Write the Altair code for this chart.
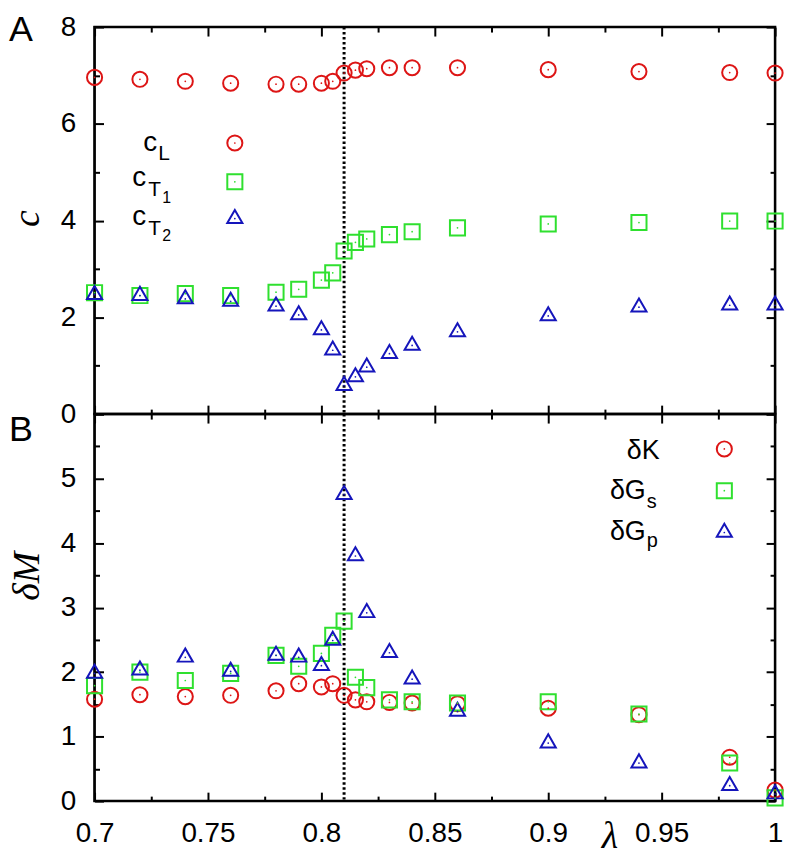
import altair as alt
import pandas as pd

# ---------------- data ----------------
lam = [0.70, 0.72, 0.74, 0.76, 0.78, 0.79, 0.80, 0.805, 0.81, 0.815,
       0.82, 0.83, 0.84, 0.86, 0.90, 0.94, 0.98, 1.00]

c_L = [6.96, 6.92, 6.88, 6.84, 6.82, 6.82, 6.84, 6.88, 7.05, 7.11,
       7.14, 7.16, 7.16, 7.16, 7.12, 7.08, 7.06, 7.05]
c_T1 = [2.51, 2.45, 2.49, 2.45, 2.52, 2.58, 2.77, 2.92, 3.37, 3.55,
        3.62, 3.71, 3.77, 3.85, 3.93, 3.96, 3.99, 3.99]
c_T2 = [2.47, 2.45, 2.38, 2.33, 2.23, 2.05, 1.74, 1.32, 0.59, 0.77,
        0.97, 1.25, 1.42, 1.70, 2.03, 2.21, 2.25, 2.25]

d_K = [1.58, 1.65, 1.62, 1.64, 1.71, 1.82, 1.77, 1.82, 1.64, 1.57,
       1.54, 1.53, 1.52, 1.51, 1.44, 1.34, 0.68, 0.17]
d_Gs = [1.79, 2.00, 1.87, 1.98, 2.26, 2.09, 2.29, 2.57, 2.79, 1.92,
        1.76, 1.57, 1.54, 1.52, 1.54, 1.35, 0.59, 0.05]
d_Gp = [1.98, 2.03, 2.23, 2.01, 2.26, 2.23, 2.10, 2.49, 4.75, 3.80,
        2.92, 2.30, 1.89, 1.39, 0.90, 0.59, 0.24, 0.11]

transition = [0.81]

top_names = ["cL", "cT1", "cT2"]
bot_names = ["dK", "dGs", "dGp"]

x_major = [0.7, 0.75, 0.8, 0.85, 0.9, 0.95, 1.0]
x_minor = [0.725, 0.775, 0.825, 0.875, 0.925, 0.975]
x_ends = [0.7, 1.0]
top_y_major = [0, 2, 4, 6, 8]
top_y_minor = [1, 3, 5, 7]
bot_y_major = [0, 1, 2, 3, 4, 5, 6]
bot_y_minor = [0.5, 1.5, 2.5, 3.5, 4.5, 5.5]

# ---------------- style ----------------
W, H = 684, 389
COLORS = ["#dd1515", "#2fe02f", "#1515bb"]
TRI = "M0,-1.1547L1,0.5774L-1,0.5774Z"
SHAPES = ["circle", "square", TRI]
SANS = "Liberation Sans"
SERIF = "Liberation Serif"
MAJ, MIN = 9, 5


def make_df(names, series):
    rows = []
    for name, vals in zip(names, series):
        for l, v in zip(lam, vals):
            rows.append({"lam": l, "val": v, "series": name})
    return pd.DataFrame(rows)


def ax(orient, values, size, labels=False, **kw):
    return alt.Axis(orient=orient, values=values, tickSize=size, offset=-size,
                    domain=False, grid=False, labels=labels, ticks=True,
                    tickColor="black", tickWidth=2, title=None,
                    labelFont=SANS, labelFontSize=28, labelColor="black",
                    labelPadding=19, labelFlush=False, labelOverlap=False,
                    format="~g", **kw)


one = pd.DataFrame({"k": [0]})


def txt(s, x, y, size, align="left", font=SANS, style="normal", angle=0, baseline="alphabetic"):
    return alt.Chart(one).mark_text(text=s, align=align, baseline=baseline, font=font,
                                    fontSize=size, fontStyle=style, angle=angle,
                                    color="black").encode(x=alt.value(x), y=alt.value(y))


def sym(shape, color, x, y):
    return alt.Chart(one).mark_point(shape=shape, filled=False, strokeWidth=2, size=230,
                                     color=color, opacity=1).encode(x=alt.value(x), y=alt.value(y))


def dot(color, x, y):
    return alt.Chart(one).mark_point(shape="circle", filled=True, size=3,
                                     color=color, opacity=1).encode(x=alt.value(x), y=alt.value(y))


def panel(df, names, ydomain, ymaj, ymin, xlabels, ylabel_expr, extras):
    xs = alt.Scale(domain=[0.7, 1.0], nice=False, zero=False)
    ys = alt.Scale(domain=ydomain, nice=False, zero=False)
    color = alt.Color("series:N", scale=alt.Scale(domain=names, range=COLORS), legend=None)
    shape = alt.Shape("series:N", scale=alt.Scale(domain=names, range=SHAPES), legend=None)
    base = alt.Chart(df)

    # plot frame: a rectangle spanning the full scale domains
    box_df = pd.DataFrame({"x1": [x_ends[0]], "x2": [x_ends[1]],
                           "y1": [ydomain[0]], "y2": [ydomain[1]]})
    box = alt.Chart(box_df).mark_rect(fill="white", fillOpacity=0, stroke="black",
                                      strokeWidth=2.5, strokeOpacity=1).encode(
        x=alt.X("x1:Q", scale=xs, axis=None), x2="x2:Q",
        y=alt.Y("y1:Q", scale=ys, axis=None), y2="y2:Q")

    rule = alt.Chart(pd.DataFrame({"lam": transition})).mark_rule(
        strokeDash=[2.5, 2.5], strokeWidth=3, color="black", strokeCap="butt"
    ).encode(x=alt.X("lam:Q", scale=xs, axis=None))

    pts = base.mark_point(filled=False, strokeWidth=2, size=230, opacity=1).encode(
        x=alt.X("lam:Q", scale=xs, axis=ax("bottom", x_major, MAJ, labels=xlabels)),
        y=alt.Y("val:Q", scale=ys, axis=ax("left", ymaj, MAJ, labels=True, labelExpr=ylabel_expr)),
        color=color, shape=shape)

    dots = base.mark_point(filled=True, size=3, shape="circle", opacity=1).encode(
        x=alt.X("lam:Q", scale=xs, axis=None),
        y=alt.Y("val:Q", scale=ys, axis=None),
        color=color)

    def axl(xa, ya):
        return base.mark_point(opacity=0).encode(
            x=alt.X("lam:Q", scale=xs, axis=xa),
            y=alt.Y("val:Q", scale=ys, axis=ya))

    a2 = axl(ax("bottom", x_minor, MIN), ax("left", ymin, MIN))
    a3 = axl(ax("top", x_major, MAJ), ax("right", ymaj, MAJ))
    a4 = axl(ax("top", x_minor, MIN), ax("right", ymin, MIN))

    return alt.layer(box, rule, pts, dots, a2, a3, a4, *extras).properties(
        width=W, height=H).resolve_axis(x="independent", y="independent")


# ---------------- top panel ----------------
top_extra = [
    txt("A", -86, 13.5, 36),
    txt("c", -56, 192.5, 38, align="center", font=SERIF, style="italic", angle=270),
    txt("c", 63, 124.5, 28, align="right"),
    txt("L", 64, 133.5, 21),
    txt("c", 52, 159.5, 28, align="right"),
    txt("T", 54, 169.5, 21),
    txt("1", 68, 176.5, 16),
    txt("c", 52, 198.5, 28, align="right"),
    txt("T", 54, 208.5, 21),
    txt("2", 68, 215.5, 16),
    sym("circle", COLORS[0], 141, 116.5), dot(COLORS[0], 141, 116.5),
    sym("square", COLORS[1], 141, 155.5), dot(COLORS[1], 141, 155.5),
    sym(TRI, COLORS[2], 141, 192.5), dot(COLORS[2], 141, 192.5),
]

bot_extra = [
    txt("B", -86, 27, 36),
    txt("δM", -56, 163, 38, align="center", font=SERIF, style="italic", angle=270),
    txt("λ", 518, 436, 38, align="center", font=SERIF, style="italic"),
    txt("δK", 568, 45, 27, align="right"),
    txt("δG", 554, 85, 27, align="right"),
    txt("s", 555, 94, 20),
    txt("δG", 554, 127, 27, align="right"),
    txt("p", 555, 134, 20),
    sym("circle", COLORS[0], 633, 35), dot(COLORS[0], 633, 35),
    sym("square", COLORS[1], 633, 77), dot(COLORS[1], 633, 77),
    sym(TRI, COLORS[2], 633, 119), dot(COLORS[2], 633, 119),
]

top = panel(make_df(top_names, [c_L, c_T1, c_T2]), top_names, [0, 8],
            top_y_major, top_y_minor, False, "datum.label", top_extra)
bottom = panel(make_df(bot_names, [d_K, d_Gs, d_Gp]), bot_names, [0, 6],
               bot_y_major, bot_y_minor, True,
               "datum.value == 6 ? '' : datum.label", bot_extra)

chart = alt.vconcat(top, bottom, spacing=0, bounds="flush").properties(
    padding=0
).configure_view(stroke="black", strokeWidth=2)

chart.save("out.html", embed_options={"renderer": "svg", "actions": False})
